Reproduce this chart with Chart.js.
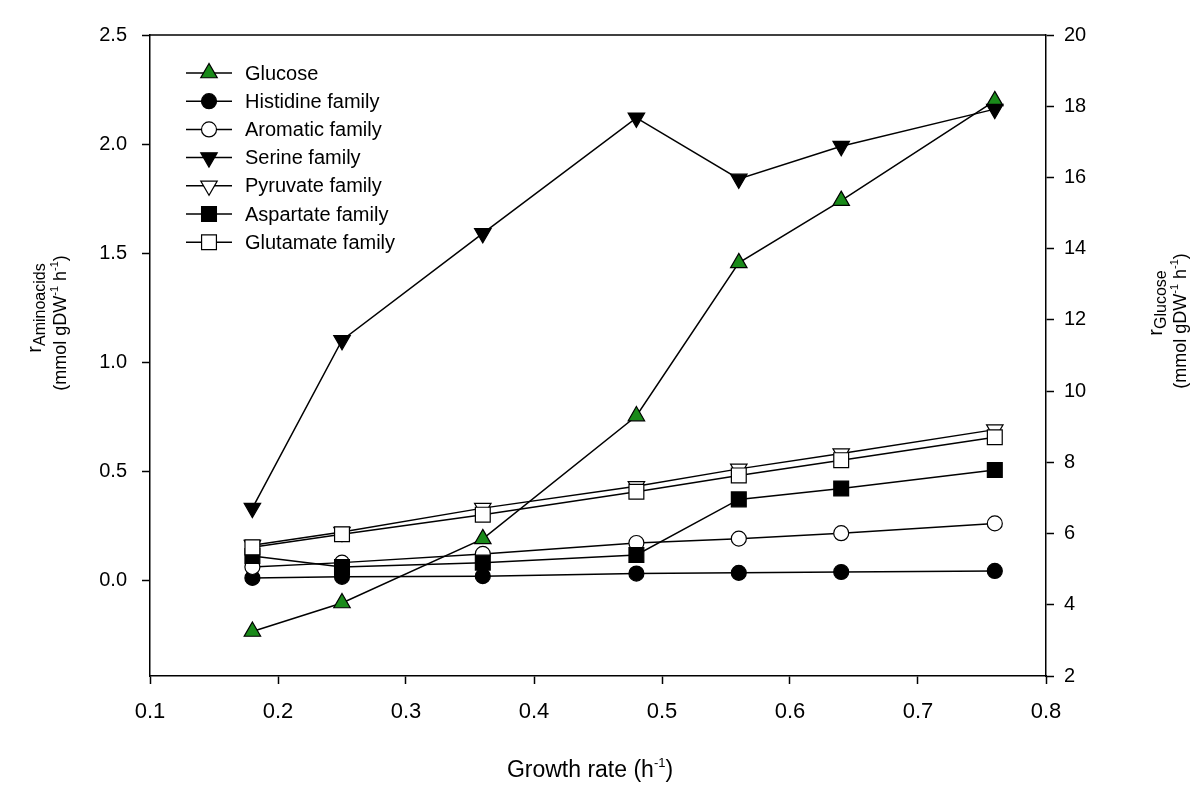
<!DOCTYPE html>
<html>
<head>
<meta charset="utf-8">
<script src="https://cdn.jsdelivr.net/npm/chart.js@4.4.0/dist/chart.umd.min.js"></script>
<style>
  html, body { margin: 0; padding: 0; background: #fff; }
</style>
</head>
<body>
<canvas id="chart" width="1200" height="806"></canvas>
<script>
// data
const growthRate = [0.18, 0.25, 0.36, 0.48, 0.56, 0.64, 0.76];
const glucose   = [3.25, 4.05, 5.85, 9.3, 13.6, 15.35, 18.15];
const histidine = [0.01, 0.015, 0.018, 0.03, 0.033, 0.037, 0.042];
const aromatic  = [0.06, 0.08, 0.12, 0.17, 0.19, 0.215, 0.26];
const serine    = [0.33, 1.10, 1.59, 2.12, 1.84, 1.99, 2.16];
const pyruvate  = [0.16, 0.22, 0.33, 0.43, 0.51, 0.58, 0.69];
const aspartate = [0.11, 0.06, 0.08, 0.115, 0.37, 0.42, 0.505];
const glutamate = [0.15, 0.21, 0.30, 0.405, 0.48, 0.55, 0.655];

const leftTicks = [0, 0.5, 1.0, 1.5, 2.0, 2.5];

const FONT = '"Liberation Sans", Arial, sans-serif';

function pts(arr) {
  return growthRate.map((x, i) => ({ x: x, y: arr[i] }));
}

const series = [
  { label: 'Glucose', data: glucose, style: 'triangle', rot: 0, fill: '#1a8a1a', r: 9.5, axis: 'y2' },
  { label: 'Histidine family', data: histidine, style: 'circle', rot: 0, fill: '#000', r: 7.5, axis: 'y' },
  { label: 'Aromatic family', data: aromatic, style: 'circle', rot: 0, fill: '#fff', r: 7.5, axis: 'y' },
  { label: 'Serine family', data: serine, style: 'triangle', rot: 180, fill: '#000', r: 9.5, axis: 'y' },
  { label: 'Pyruvate family', data: pyruvate, style: 'triangle', rot: 180, fill: '#fff', r: 9.5, axis: 'y' },
  { label: 'Aspartate family', data: aspartate, style: 'rect', rot: 0, fill: '#000', r: 10.5, axis: 'y' },
  { label: 'Glutamate family', data: glutamate, style: 'rect', rot: 0, fill: '#fff', r: 10.5, axis: 'y' }
];

// draws text made of pieces (sub/superscripts), centred on cx,cy
function richText(ctx, parts, cx, cy, rot) {
  ctx.save();
  ctx.translate(cx, cy);
  ctx.rotate(rot);
  ctx.textAlign = 'left';
  ctx.textBaseline = 'alphabetic';
  ctx.fillStyle = '#000';
  let w = 0;
  parts.forEach(p => {
    ctx.font = p.size + 'px ' + FONT;
    p.w = ctx.measureText(p.t).width;
    w += p.w;
  });
  let x = -w / 2;
  parts.forEach(p => {
    ctx.font = p.size + 'px ' + FONT;
    ctx.fillText(p.t, x, p.dy || 0);
    x += p.w;
  });
  ctx.restore();
}

function marker(ctx, s, x, y) {
  ctx.save();
  ctx.fillStyle = s.fill;
  ctx.strokeStyle = '#000';
  ctx.lineWidth = 1.2;
  ctx.beginPath();
  if (s.style === 'circle') {
    ctx.arc(x, y, s.r, 0, Math.PI * 2);
  } else if (s.style === 'rect') {
    const h = s.r * Math.SQRT1_2;
    ctx.rect(x - h, y - h, 2 * h, 2 * h);
  } else {
    const d = s.rot ? -1 : 1;
    const r = s.r;
    ctx.moveTo(x, y - d * r);
    ctx.lineTo(x - r * 0.866, y + d * r * 0.5);
    ctx.lineTo(x + r * 0.866, y + d * r * 0.5);
    ctx.closePath();
  }
  ctx.fill();
  ctx.stroke();
  ctx.restore();
}

const unitParts = [
  { t: '(mmol gDW', size: 18 },
  { t: '-1', size: 11, dy: -8 },
  { t: ' h', size: 18 },
  { t: '-1', size: 11, dy: -8 },
  { t: ')', size: 18 }
];

const decorations = {
  id: 'decorations',
  afterDraw(chart) {
    const ctx = chart.ctx;
    const a = chart.chartArea;
    // top frame line
    ctx.save();
    ctx.strokeStyle = '#000';
    ctx.lineWidth = 1.5;
    ctx.beginPath();
    ctx.moveTo(a.left, a.top);
    ctx.lineTo(a.right, a.top);
    ctx.stroke();
    ctx.restore();

    // legend
    series.forEach((s, i) => {
      const y = 73 + i * 28.2;
      ctx.save();
      ctx.strokeStyle = '#000';
      ctx.lineWidth = 1.5;
      ctx.beginPath();
      ctx.moveTo(186, y);
      ctx.lineTo(232, y);
      ctx.stroke();
      ctx.restore();
      marker(ctx, s, 209, y);
      ctx.save();
      ctx.fillStyle = '#000';
      ctx.font = '20px ' + FONT;
      ctx.textBaseline = 'middle';
      ctx.fillText(s.label, 245, y + 1);
      ctx.restore();
    });

    // axis titles
    const up = -Math.PI / 2;
    richText(ctx, [
      { t: 'r', size: 20 },
      { t: 'Aminoacids', size: 16, dy: 4 }
    ], 41, 308, up);
    richText(ctx, unitParts, 66, 323, up);
    richText(ctx, [
      { t: 'r', size: 20 },
      { t: 'Glucose', size: 16, dy: 4 }
    ], 1162, 303, up);
    richText(ctx, unitParts, 1186, 321, up);
    richText(ctx, [
      { t: 'Growth rate (h', size: 23 },
      { t: '-1', size: 13, dy: -10 },
      { t: ')', size: 23 }
    ], 590, 777, 0);
  }
};

const datasets = series.map((s, i) => ({
  label: s.label,
  data: pts(s.data),
  yAxisID: s.axis,
  showLine: true,
  borderColor: '#000',
  borderWidth: 1.5,
  tension: 0,
  pointStyle: s.style,
  pointRotation: s.rot,
  pointRadius: s.r,
  pointHoverRadius: s.r,
  pointBackgroundColor: s.fill,
  pointBorderColor: '#000',
  pointBorderWidth: 1.2,
  order: series.length - i
}));

const axisGrid = {
  display: true,
  drawOnChartArea: false,
  drawTicks: true,
  tickLength: 8,
  tickWidth: 1.5,
  color: '#000'
};

new Chart(document.getElementById('chart').getContext('2d'), {
  type: 'scatter',
  data: { datasets: datasets },
  plugins: [decorations],
  options: {
    responsive: false,
    animation: false,
    layout: { padding: { top: 35, left: 0, right: 0, bottom: 0 } },
    plugins: { legend: { display: false }, tooltip: { enabled: false } },
    scales: {
      x: {
        type: 'linear',
        position: 'bottom',
        min: 0.1, max: 0.8,
        ticks: {
          stepSize: 0.1,
          color: '#000',
          padding: 15,
          font: { family: FONT, size: 22 },
          callback: v => v.toFixed(1)
        },
        grid: axisGrid,
        border: { display: true, color: '#000', width: 1.5 },
        afterFit: s => { s.height = 130; }
      },
      y: {
        type: 'linear',
        position: 'left',
        min: -0.44, max: 2.5,
        afterBuildTicks: s => { s.ticks = leftTicks.map(v => ({ value: v })); },
        ticks: {
          color: '#000',
          padding: 15,
          font: { family: FONT, size: 20 },
          callback: v => v.toFixed(1)
        },
        grid: axisGrid,
        border: { display: true, color: '#000', width: 1.5 },
        afterFit: s => { s.width = 150; }
      },
      y2: {
        type: 'linear',
        position: 'right',
        min: 2, max: 20,
        ticks: {
          stepSize: 2,
          color: '#000',
          padding: 10,
          font: { family: FONT, size: 20 }
        },
        grid: axisGrid,
        border: { display: true, color: '#000', width: 1.5 },
        afterFit: s => { s.width = 154; }
      }
    }
  }
});
</script>
</body>
</html>
